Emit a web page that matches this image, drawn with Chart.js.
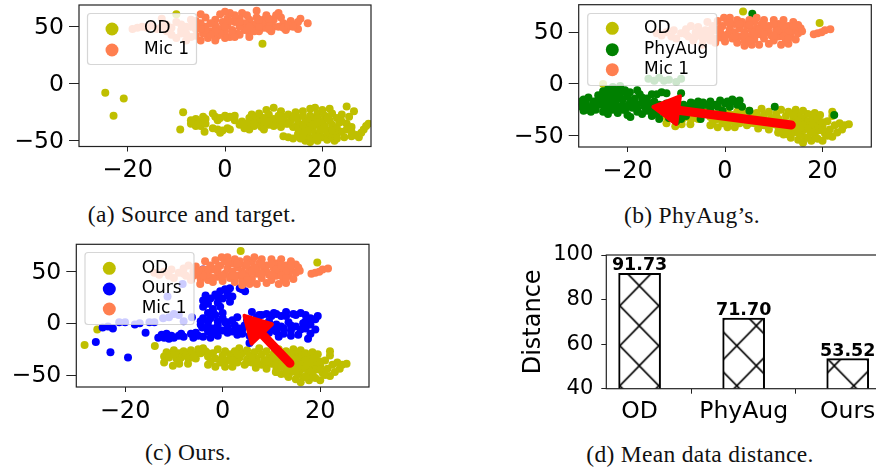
<!DOCTYPE html>
<html>
<head>
<meta charset="utf-8">
<title>Data distance</title>
<script src="https://cdn.jsdelivr.net/npm/chart.js@4"></script>
<style>
html, body { margin: 0; width: 876px; height: 472px; overflow: hidden; background: #fff; }
canvas { position: absolute; }
.cap { position: absolute; transform: translateX(-50%); white-space: nowrap; font: 23.5px "Liberation Serif", serif; letter-spacing: .3px; color: #111; line-height: 24px; }
</style>
</head>
<body>
<canvas id="a" width="400" height="200" style="left:0;top:0"></canvas>
<canvas id="b" width="376" height="200" style="left:500px;top:0"></canvas>
<canvas id="c" width="400" height="200" style="left:0;top:236px"></canvas>
<canvas id="d" width="400" height="195" style="left:500px;top:236px"></canvas>
<div class="cap" style="left:192px;top:202px">(a) Source and target.</div>
<div class="cap" style="left:692px;top:203px">(b) PhyAug’s.</div>
<div class="cap" style="left:188px;top:440px">(c) Ours.</div>
<div class="cap" style="left:700px;top:442px">(d) Mean data distance.</div>
<script>
// ---- data ----
const odSrc = [[-24.6,-8],[-22.9,-28],[-20.8,-13],[-10,61],[7.7,35],[-8.6,-25],[-9.2,-40],[-7,-35],[-6.5,-33],[-6,-31],[-6,-37],[-5.5,-35],[-5,-33],[-5,-37],[-4.5,-29],[-4.2,-42],[-4,-31],[-2.5,-26],[-2,-29],[-2.5,-39],[-1.5,-40],[-1.5,-32],[-1,-43],[-1,-30],[-0.5,-41],[0,-28],[0.5,-39],[0.5,-30],[1,-40],[2,-28],[3.5,-33],[4,-35],[4,-39],[5,-30],[5,-34],[5,-40],[5.5,-27],[6,-32],[6,-37],[6.5,-29],[7,-34],[7.5,-38],[7,-26],[8,-30],[8,-35],[8.5,-23],[9,-36],[9,-27],[10,-21],[10,-31],[10.5,-35],[11,-33],[11.5,-38],[11.5,-24],[12,-29],[12,-46],[12.5,-35],[13,-27],[13,-47],[13.5,-32],[14,-38],[14,-48],[14.5,-25],[15,-30],[15,-35],[15.5,-48],[16,-24],[16,-28],[16,-41],[16.5,-33],[16.5,-50],[17,-37],[17,-45],[17.5,-22],[17.5,-28],[17.5,-51],[18,-32],[18,-40],[18,-48],[18.5,-21],[18.5,-35],[18.5,-44],[19,-26],[19,-30],[19,-50],[19.5,-38],[19.5,-42],[20,-23],[20,-33],[20,-47],[20.5,-28],[20.5,-37],[21,-41],[21,-44],[21,-49],[21.5,-22],[21.5,-32],[22,-26],[22,-36],[22,-47],[22.5,-50],[23,-30],[23,-39],[23,-44],[23.5,-34],[24,-27],[24,-42],[24.5,-47],[25,-20],[25,-35],[25.5,-29],[26,-38],[26,-46],[26.5,-24],[27,-45],[27.5,-47],[28,-43],[28.5,-40],[29,-37],[29.5,-35],
    [3,-36],[6,-35],[9,-33],[10,-37],[12,-32],[13,-35],[14,-30],[15,-44],[15,-39],[16,-36],[17,-32],[17,-41],[18,-36],[19,-34],[20,-40],[21,-30],[22,-41],[24,-33],[25,-40],[26,-42],[-7,-32],[-4,-35],[2,-32],[1,-29],[8,-40],[11,-28],[16,-46],[19,-47],[23,-48]];
const micSrc = [[17,53],[15.5,57],[15,48],[14.5,52],[13.5,55],[13,50],[12.5,47],[12,53],[11.5,58],[11,62],[10.5,60],[10,56],[10,50],[9.5,46],[9,52],[8.5,60],[8,56],[8,49],[7.5,53],[7,46],[6.5,64],[6.5,58],[6,52],[5.5,48],[5,56],[5,44],[4.5,60],[4,53],[4,47],[3.5,62],[3,57],[3,50],[2.5,44],[2,60],[2,54],[1.5,47],[1,41],[1,62],[0.5,57],[0.5,51],[0,63],[0,46],[0,40],[-0.5,54],[-1,61],[-1,48],[-1.5,42],[-2,56],[-2,51],[-2,38],[-3,53],[-3,46],[-3.5,40],[-4,50],[-4,58],[-4.5,44],[-5,61],[-5,53],[-5,38],[-6,48],[-6,42],[-6,55],[-19,48],[-18,49],[-17,50],[-16,49],[-15,51],[-14,48],[-13,57],[-13,50],[-12,46],[-12,52],[-11,43],[-11,49],[-10,54],[-10,40],[-9,47],[-9,52],[-8,44],[-8,38],[-7,56],[-7,50],[-7,41],
    [1.5,44],[3,43],[5,41],[6,46],[7,50],[9,48],[11,50],[12,49],[13,52],[15,54],[14,50],[2,41],[-1,44],[-2,46],[-3,43],[-4,47],[0,50],[1,55],[3,54],[5,50],[7,56],[9,57],[-5,48],[-6,51],[-8,50],[-9,44]];
const odCore = [[3.7,70],[19.4,59],[-12,-32],[-12,-38],[-11.5,-28],[-11,-33],[-10.5,-30],[-10.2,-41],[-10,-26],[-9.5,-34],[-9,-29],[-8.9,-39],[-8.5,-33],[-8,-27],[-7.5,-30],[-7.1,-39],[-7,-34],[-6.5,-26],[-6,-30],[-5.5,-34],[-5,-25],[-4.5,-29],[-4,-24],[-3.5,-27],[-3,-40],[-3,-32],[-2.5,-37],[-2,-29],[-1.5,-42],[-1.5,-34],[-1,-25],[-0.5,-38],[0,-31],[0.5,-42],[0.5,-27],[1,-36],[1.5,-30],[2,-42],[2,-33],[2.5,-27],[3,-38],[3.4,-24],[3.5,-33],[4,-29],[4.5,-40],[5,-35],[5,-26],[5.5,-31],[6,-38],[6.5,-28],[6.8,-43],[7,-34],[7.5,-24],[8,-40],[8,-30],[8.5,-36],[9,-27],[9,-44],[9.5,-33],[10,-39],[10.5,-29],[10.9,-47],[11,-43],[11,-34],[11.5,-25],[12,-37],[12,-49],[12.5,-31],[13,-44],[13,-27],[13.5,-40],[13.5,-52],[14,-34],[14,-47],[14.5,-25],[15,-30],[15,-42],[15,-54],[15.5,-37],[15.5,-49],[16,-26],[16,-33],[16,-45],[16,-57],[16.5,-40],[16.5,-52],[17,-29],[17,-36],[17.7,-55],[17.5,-47],[18,-42],[18,-33],[18.4,-28],[18.5,-51],[19,-38],[19,-45],[19,-53],[19.5,-30],[20,-55],[20,-41],[20.5,-48],[21,-36],[21.5,-44],[22,-27],[22,-31],[22,-51],[22.5,-40],[23,-47],[23.5,-38],[24,-44],[24.5,-40],[25.4,-39],
    [-9,-36],[-6,-33],[-3,-29],[0,-35],[2,-36],[3,-30],[6,-33],[7,-38],[9,-40],[10,-35],[11,-39],[12,-42],[13,-38],[14,-41],[14,-30],[15,-35],[16,-40],[17,-43],[18,-38],[18,-47],[19,-34],[20,-37],[20,-45],[21,-50],[17,-52],[15,-47],[13,-49],[11,-47],[9,-37],[5,-38]];
const odExtraB = [[-25,0]];
const odExtraC = [[-25.7,-6],[-28.3,-21],[-13.9,-22]];
const micCore = [[-14,49],[-13,47],[-12,50],[-11,46],[-10.5,52],[-10,44],[-9,49],[-8,53],[-7.5,46],[-7,56],[-6.5,42],[-6,50],[-5.5,55],[-5,47],[-4.6,38],[-4.5,43],[-4,52],[-3.6,60],[-3,42],[-3,47],[-2.5,56],[-2,52],[-2,40],[-1.5,61],[-1,45],[-1,50],[-0.5,56],[-0.2,64],[0,41],[0.5,60],[0.5,48],[1,53],[1,64],[1.5,44],[2,58],[2,50],[2.5,62],[2.5,40],[3,46],[3,54],[3.5,60],[4,37],[4,42],[4,50],[4.5,56],[5,62],[5,46],[5.5,38],[5.5,52],[6,60],[6,43],[6.5,54],[6.5,64],[7,48],[7,38],[7.5,58],[8,62],[8,44],[8.5,52],[9,56],[9,39],[9.5,47],[10,62],[10,42],[10.5,53],[11,58],[11,46],[11.5,38],[12,62],[12,50],[12.5,42],[13,56],[13,39],[13.5,47],[14,60],[14,52],[14.5,43],[15,57],[15,49],[15.5,54],[15.8,51],[18.2,48],[19,49],[19.8,50],[20.5,52],[21.6,53],
    [1,59],[3,58],[5,57],[6,50],[7,53],[8,57],[9,50],[10,58],[11,52],[12,56],[13,50],[14,56],[-1,54],[-2,44],[0,46],[2,46],[4,47],[5,42],[8,48],[10,47],[12,46],[13,44],[-3,52],[-4,46],[-5,51],[-6,46],[-8,48]];
const phyAug = [[5.6,68],[10.2,-22],[5,-26],[22.4,-30],[-19.4,-32],[-15.7,5],[-14.5,3],[-13.5,6],[-12.5,3],[-11.5,4],[-10,2],[-9,5],[-15,-10],[-14,-10],[-13,-8],[-12,-9],[-9,-9],[-30,-18],[-29.5,-22],[-29,-15],[-29,-26],[-28.5,-19],[-28,-23],[-28,-13],[-27.5,-27],[-27,-17],[-27,-21],[-26.5,-25],[-26,-11],[-26,-15],[-25.5,-20],[-25,-7],[-25,-27],[-25,-13],[-24.5,-17],[-24.5,-23],[-24,-5],[-24,-10],[-24,-29],[-23.5,-14],[-23.5,-20],[-23,-3],[-23,-8],[-23,-25],[-22.5,-12],[-22.5,-17],[-22,-6],[-22,-22],[-22,-28],[-21.5,-2],[-21.5,-10],[-21,-15],[-21,-20],[-20.5,-6],[-20.5,-25],[-20,-12],[-20,-30],[-19.5,-18],[-19.5,-8],[-19,-23],[-18.5,-14],[-18,-27],[-18,-20],[-18,-6],[-17.5,-10],[-17,-17],[-17,-29],[-16.5,-22],[-16,-14],[-16,-26],[-15.5,-19],[-15,-31],[-14.5,-17],[-14.5,-24],[-13.5,-34],[-13.5,-20],[-12.5,-28],[-12,-19],[-11.5,-33],[-11,-24],[-10.5,-19],[-10,-36],[-9.5,-27],[-9,-34],[-8.5,-20],[-8,-24],[-7,-18],[-7,-25],[-6,-21],[-5.5,-17],[-5,-24],[-5,-34],[-4,-20],[-3,-24],[-3,-17],[-1.5,-22],[-0.5,-26],[0,-19],[1,-22],[1.5,-15],[2.5,-20],[3,-16],[3.5,-22],
    [-29.5,-17],[-28.5,-25],[-27,-24],[-26,-19],[-24,-26],[-23,-18],[-22,-14],[-21,-25],[-20,-22],[-19,-16],[-18,-24],[-17,-13],[-16,-21],[-15,-26],[-14,-29],[-13,-25],[-12,-24],[-11,-29],[-10,-24],[-9,-30],[-6.5,-19],[-4.5,-18],[-2,-20],[-1,-16],[0.5,-17],[2,-17],[-8,-31],[-7,-21]];
const ours = [[-26,-18],[-23,-28],[-19.4,-33],[-15.8,-9],[-24.6,-4],[-23.5,-3],[-22.5,-5],[-21.2,1],[-20,1],[-18,-1],[-17,0],[-15,1],[-14,1],[-12.2,5],[-11,6],[-10,9],[-9,8],[-8,2],[-6.3,6],[-11.3,26],[-8.2,38],[-4,52],[-13.2,-14],[-12.5,-11],[-12,-14],[-11.5,-10],[-10.5,-12],[-10,-14],[-9,-12],[-8,-13],[-6.5,-10],[-6,-14],[-5.5,-9],[-5,-12],[-4.2,-4],[-4,-13],[-3,-8],[-2.5,-14],[-2,-10],[-1,-12],[-4.5,2],[-4.5,-1],[-4,5],[-4,22],[-4,16],[-3.5,27],[-3,10],[-3,19],[-3,1],[-3,-3],[-2.5,24],[-2,14],[-2,-5],[-1.5,8],[-1.5,28],[-1,20],[-1,2],[-1,-2],[-0.5,16],[-0.5,31],[0,10],[0,24],[0,-7],[0,5],[0.5,33],[0.5,1],[1,27],[1,-4],[1,-9],[1.5,21],[1.5,34],[2,26],[2,3],[2,-8],[2.5,-2],[3,-11],[3,6],[3.5,-5],[4,33],[4,-10],[4.6,31],[4.5,-2],[5,3],[5.5,-12],[5.5,-19],[6,11],[6.5,-4],[7,-11],[7.5,8],[8,-1],[8.5,-8],[9,9],[9.5,2],[10,-6],[10.5,10],[11,-1],[11.5,-13],[12,7],[12.5,-5],[13,11],[13.5,1],[14,-7],[14.5,9],[15,-3],[15.5,-11],[16,10],[16.5,0],[17,8],[17,-5],[17.5,-15],[18,-1],[18,-10],[19,4],[19,-6],[19.5,7],
    [7,6],[8,8],[9,-4],[10,7],[11,9],[12,-3],[13,7],[14,-2],[15,8],[16,-6],[17,2],[18,5],[6,-8],[7.5,-6],[9.5,-9],[11,-8],[12.5,-10],[14,-12],[3,-7],[1,1],[-2,12],[-3.5,20],[-1,25],[1,30],[3.5,34],[-2.5,5],[-1,-7],[4,-6],[-11,-15],[-8.5,-10]];
const xTicks = [-20, 0, 20];
const yTicks = [-50, 0, 50];
const barCats = ['OD', 'PhyAug', 'Ours'];
const barVals = [91.73, 71.70, 53.52];
const barTicks = [40, 60, 80, 100];
const arrowB = [[13.6,-39.7],[-15.1,-22]];
const arrowC = [[13.8,-38.7],[4.2,8.7]];

const OLIVE = '#bfbf00', GREEN = '#008000', BLUE = '#0000ff', CORAL = '#ff7f50';
const pts = arr => arr.map(p => ({ x: p[0], y: p[1] }));
const minus = v => v < 0 ? '\u2212' + Math.abs(v) : '' + v;

function set(label, arr, color, order) {
    return { label, data: pts(arr), backgroundColor: color, borderWidth: 0, pointRadius: 4, order };
}

// top and right spine, plus left and bottom
const frame = {
    id: 'frame',
    afterDatasetsDraw(chart) {
        const a = chart.chartArea, ctx = chart.ctx;
        ctx.save();
        ctx.strokeStyle = '#222';
        ctx.lineWidth = 1.2;
        ctx.strokeRect(a.left, a.top, a.right - a.left, a.bottom - a.top);
        ctx.restore();
    }
};

const arrow = {
    id: 'arrow',
    afterDatasetsDraw(chart, args, opts) {
        if (!opts.path) return;
        const sx = chart.scales.x, sy = chart.scales.y, ctx = chart.ctx;
        const x0 = sx.getPixelForValue(opts.path[0][0]), y0 = sy.getPixelForValue(opts.path[0][1]);
        const x1 = sx.getPixelForValue(opts.path[1][0]), y1 = sy.getPixelForValue(opts.path[1][1]);
        const ang = Math.atan2(y1 - y0, x1 - x0);
        const ux = Math.cos(ang), uy = Math.sin(ang);
        const bx = x1 - ux * 27, by = y1 - uy * 27;
        ctx.save();
        ctx.strokeStyle = ctx.fillStyle = '#ff0000';
        ctx.lineJoin = ctx.lineCap = 'round';
        ctx.lineWidth = 9;
        ctx.beginPath();
        ctx.moveTo(x0, y0);
        ctx.lineTo(bx, by);
        ctx.stroke();
        ctx.lineWidth = 4;
        ctx.beginPath();
        ctx.moveTo(x1 - ux * 2, y1 - uy * 2);
        ctx.lineTo(bx - uy * 14, by + ux * 14);
        ctx.lineTo(bx + uy * 14, by - ux * 14);
        ctx.closePath();
        ctx.fill();
        ctx.stroke();
        ctx.restore();
    }
};

// matplotlib style legend: translucent box over the points
const boxLegend = {
    id: 'boxLegend',
    afterDraw(chart, args, o) {
        if (!o.box) return;
        const ctx = chart.ctx, b = o.box;
        ctx.save();
        ctx.beginPath();
        ctx.roundRect(b[0], b[1], b[2], b[3], 3);
        ctx.fillStyle = 'rgba(255,255,255,0.8)';
        ctx.fill();
        ctx.strokeStyle = 'rgba(204,204,204,0.8)';
        ctx.lineWidth = 1.2;
        ctx.stroke();
        ctx.font = '17px "DejaVu Sans"';
        ctx.textBaseline = 'middle';
        chart.data.datasets.forEach((ds, i) => {
            const y = o.rows[i];
            ctx.beginPath();
            ctx.arc(o.mx, y, 6.5, 0, Math.PI * 2);
            ctx.fillStyle = ds.backgroundColor;
            ctx.fill();
            ctx.fillStyle = '#000';
            ctx.fillText(ds.label, o.tx, y);
        });
        ctx.restore();
    }
};

function axis(size, ticks, tickLen, font, pad, fixed, extra) {
    return Object.assign({
        type: 'linear',
        grid: { drawOnChartArea: false, drawTicks: true, tickLength: tickLen, tickColor: '#222', lineWidth: 1 },
        border: { display: false },
        ticks: { color: '#000', autoSkip: false, maxRotation: 0, padding: pad, labelOffset: size.labelNudge || 0, font: { family: 'DejaVu Sans', size: font }, callback: minus },
        afterBuildTicks(s) { s.ticks = ticks.map(v => ({ value: v })); },
        afterFit(s) {
            if (s.isHorizontal()) s.height = fixed; else s.width = fixed;
            s.paddingLeft = s.paddingRight = s.paddingTop = s.paddingBottom = 0;
        }
    }, size, extra);
}

function panel(id, geom, datasets, yr, legend, path) {
    // geom: left and top of the canvas, then the plot area in page pixels
    const c = document.getElementById(id);
    new Chart(c, {
        type: 'scatter',
        data: { datasets },
        options: {
            responsive: false,
            animation: false,
            layout: { padding: { left: 0, top: geom.t - geom.top, right: c.width - (geom.r - geom.left), bottom: 0 } },
            scales: {
                x: axis({ min: -30, max: 30 }, xTicks, 5, 24, 5, c.height - (geom.b - geom.top)),
                y: axis({ min: yr[0], max: yr[1], labelNudge: 1 }, yTicks, 10, 23.5, 5, geom.l - geom.left)
            },
            plugins: { legend: { display: false }, tooltip: { enabled: false }, arrow: { path }, boxLegend: legend }
        },
        plugins: [frame, arrow, boxLegend]
    });
}

panel('a', { left: 0, top: 0, l: 79, r: 371, t: 5, b: 146.5 },
    [set('OD', odSrc, OLIVE, 2), set('Mic 1', micSrc, CORAL, 1)],
    [-55, 69],
    { box: [87.5, 13.5, 109, 51], rows: [29, 50], mx: 112, tx: 144 });

panel('b', { left: 500, top: 0, l: 578.7, r: 871.3, t: 4.7, b: 147 },
    [set('OD', odCore.concat(odExtraB), OLIVE, 3), set('PhyAug', phyAug, GREEN, 2), set('Mic 1', micCore, CORAL, 1)],
    [-61, 76.7],
    { box: [87.7, 13.5, 129, 72], rows: [28.3, 49.7, 69.7], mx: 112.3, tx: 144 }, arrowB);

panel('c', { left: 0, top: 236, l: 76.3, r: 369, t: 244.3, b: 387 },
    [set('OD', odCore.concat(odExtraC), OLIVE, 3), set('Ours', ours, BLUE, 2), set('Mic 1', micCore, CORAL, 1)],
    [-61.6, 76.5],
    { box: [85, 16.5, 109, 72], rows: [32.3, 53, 73], mx: 109.3, tx: 141.7 }, arrowC);

// bar hatch, a single lattice shared by all bars like matplotlib's
const tile = document.createElement('canvas');
tile.width = 39; tile.height = 40;
const tc = tile.getContext('2d');
tc.fillStyle = '#fff';
tc.fillRect(0, 0, 39, 40);
tc.strokeStyle = '#000';
tc.lineWidth = 1.6;
tc.beginPath();
tc.moveTo(-1, -1); tc.lineTo(40, 41);
tc.moveTo(-1, 41); tc.lineTo(40, -1);
tc.stroke();

const dc = document.getElementById('d');
const hatch = dc.getContext('2d').createPattern(tile, 'repeat');
hatch.setTransform(new DOMMatrix().translate(639.3 - 500, 325.7 - 236));

const barLabels = {
    id: 'barLabels',
    afterDatasetsDraw(chart) {
        const ctx = chart.ctx, sx = chart.scales.x, sy = chart.scales.y;
        ctx.save();
        ctx.font = 'bold 17.5px "DejaVu Sans"';
        ctx.textAlign = 'center';
        ctx.textBaseline = 'alphabetic';
        ctx.fillStyle = '#000';
        barVals.forEach((v, i) => ctx.fillText(v.toFixed(2), sx.getPixelForValue(i), sy.getPixelForValue(v) - 3));
        ctx.restore();
    }
};

new Chart(dc, {
    type: 'bar',
    data: { datasets: [{ data: barVals.map((y, i) => ({ x: i, y })), backgroundColor: hatch, borderColor: '#000', borderWidth: 2, barThickness: 42, borderSkipped: false }] },
    options: {
        responsive: false,
        animation: false,
        layout: { padding: { left: 0, top: 255 - 236, right: 400 - 381, bottom: 0 } },
        scales: {
            x: axis({ min: -0.32, max: 2.32, offset: false }, [0, 1, 2], 5, 23.5, 4, 195 - (388.7 - 236), {}),
            y: axis({ min: 40, max: 100 }, barTicks, 5, 21, 8, 106.3, { title: { display: true, text: 'Distance', color: '#000', font: { family: 'DejaVu Sans', size: 24 }, padding: { top: 19, bottom: 0 } } })
        },
        plugins: { legend: { display: false }, tooltip: { enabled: false } }
    },
    plugins: [frame, barLabels]
});
Chart.getChart(dc).options.scales.x.ticks.callback = v => barCats[v];
Chart.getChart(dc).update();
</script>
</body>
</html>
